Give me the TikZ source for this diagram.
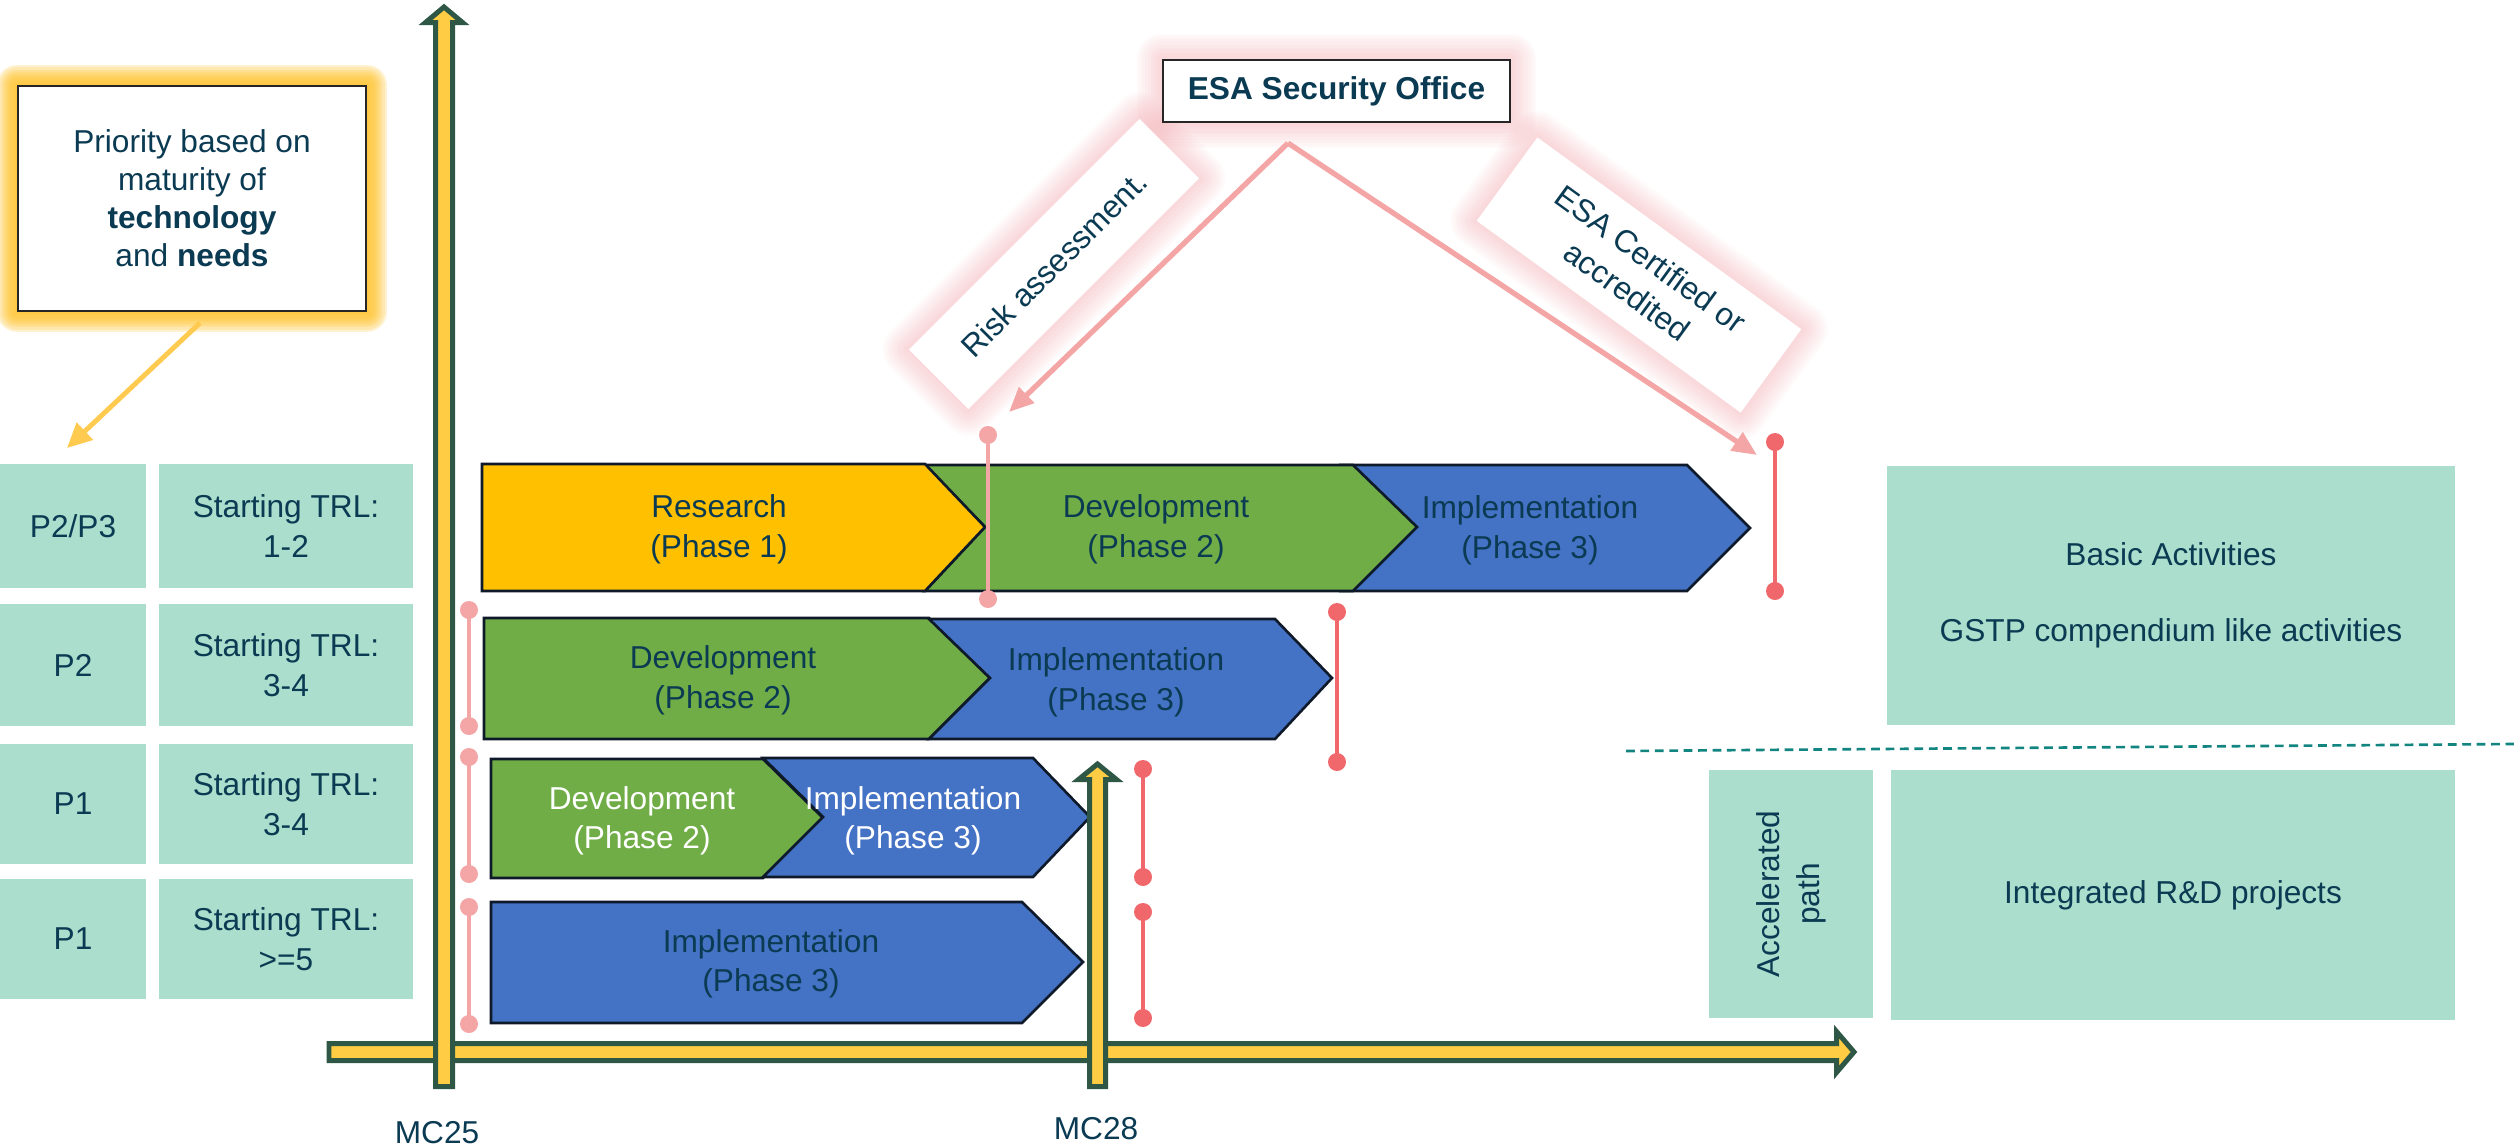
\documentclass[tikz,border=0pt]{standalone}
\usepackage{fontspec}
\setmainfont{Liberation Sans}
\usetikzlibrary{arrows.meta}
\pgfdeclarelayer{bg}
\pgfsetlayers{bg,main}
\definecolor{navy}{RGB}{11,58,83}
\definecolor{mint}{RGB}{171,222,205}
\definecolor{axisyel}{RGB}{255,204,68}
\definecolor{axisgrn}{RGB}{47,87,70}
\definecolor{resyel}{RGB}{255,192,0}
\definecolor{devgrn}{RGB}{112,173,71}
\definecolor{impblu}{RGB}{68,114,196}
\definecolor{chevline}{RGB}{14,26,42}
\definecolor{pinpink}{RGB}{244,166,166}
\definecolor{pinred}{RGB}{240,104,107}
\definecolor{dashteal}{RGB}{18,133,128}
\definecolor{glowpink}{RGB}{240,160,166}
\definecolor{glowyel}{RGB}{255,196,50}
\definecolor{arrowyel}{RGB}{255,202,80}

\newcommand\glowaround[4]{%
  \begin{pgfonlayer}{bg}
  \foreach \w in {#3}{%
    \draw[#2, line width=\w pt, opacity=#4, line join=round]
      (#1.north west) -- (#1.north east) -- (#1.south east) -- (#1.south west) -- cycle;
  }%
  \end{pgfonlayer}}
\newcommand\pinbar[4]{%
  \draw[#4, line width=1.3pt] (#1,#2) -- (#1,#3);
  \fill[#4] (#1,#2) circle (0.09cm) (#1,#3) circle (0.09cm);}

\tikzset{
  txt/.style={font=\fontsize{9}{11.2}\selectfont, text=navy, align=center, inner sep=0pt},
  cell/.style={txt, fill=mint},
  chev/.style={draw=chevline, line width=0.75pt, line join=miter},
  axisarrow/.style={fill=axisyel, draw=axisgrn, line width=1.42pt, line join=miter},
  tag/.style={txt, fill=white},
  pinkarrow/.style={pinpink, line width=1.5pt, -{Triangle[length=7pt,width=6pt]}},
}

\begin{document}
\begin{tikzpicture}[x=0.01cm, y=-0.01cm]
\useasboundingbox (0,0) rectangle (2514,1148);

% ---------- left table ----------
\node[cell, minimum width=1.46cm, minimum height=1.24cm] (pr1) at (73,526) {P2/P3};
\node[cell, minimum width=2.54cm, minimum height=1.24cm] (trl1) at (286,526) {Starting TRL:\\1-2};
\node[cell, minimum width=1.46cm, minimum height=1.22cm] (pr2) at (73,665) {P2};
\node[cell, minimum width=2.54cm, minimum height=1.22cm] (trl2) at (286,665) {Starting TRL:\\3-4};
\node[cell, minimum width=1.46cm, minimum height=1.20cm] (pr3) at (73,804) {P1};
\node[cell, minimum width=2.54cm, minimum height=1.20cm] (trl3) at (286,804) {Starting TRL:\\3-4};
\node[cell, minimum width=1.46cm, minimum height=1.20cm] (pr4) at (73,939) {P1};
\node[cell, minimum width=2.54cm, minimum height=1.20cm] (trl4) at (286,939) {Starting TRL:\\>=5};

% ---------- priority box ----------
\node[txt, fill=white, draw=black!85, line width=0.5pt, minimum width=3.48cm, minimum height=2.25cm,
      font=\fontsize{9}{10.8}\selectfont] (prio) at (192,198.5)
      {Priority based on\\maturity of\\\textbf{technology}\\and \textbf{needs}};
\glowaround{prio}{glowyel}{1.25,2.5,...,11.25}{0.22}
\coordinate (priotip) at (67,448);
\draw[arrowyel, line width=1.4pt, -{Triangle[length=7pt,width=6.5pt]}] (prio.south) ++(8,11) -- (priotip);

% ---------- axes ----------
\draw[axisarrow] (329,1043.5) -- (1836.5,1043.5) -- (1836.5,1031.5) -- (1854,1052)
  -- (1836.5,1072.5) -- (1836.5,1060.5) -- (329,1060.5) -- cycle;
\draw[axisarrow] (435.5,1086.5) -- (435.5,22.5) -- (425.5,22.5) -- (444,7)
  -- (462.5,22.5) -- (452.5,22.5) -- (452.5,1086.5) -- cycle;
\node[txt] (mc25) at (437,1133) {MC25};

% ---------- chevrons row 1 ----------
\draw[chev, fill=impblu] (1342,465) -- (1687,465) -- (1750,528) -- (1687,591) -- (1342,591) -- (1405,528) -- cycle;
\draw[chev, fill=devgrn] (925,465) -- (1353,465) -- (1417,527) -- (1353,591) -- (925,591) -- (985,527) -- cycle;
\draw[chev, fill=resyel] (482,464) -- (925,464) -- (985,527) -- (925,591) -- (482,591) -- cycle;
\node[txt, font=\fontsize{9}{11.4}\selectfont] (r1a) at (719,529) {Research\\(Phase 1)};
\node[txt, font=\fontsize{9}{11.4}\selectfont] (r1b) at (1156,529) {Development\\(Phase 2)};
\node[txt, font=\fontsize{9}{11.4}\selectfont] (r1c) at (1530,530) {Implementation\\(Phase 3)};

% ---------- row 2 ----------
\draw[chev, fill=devgrn] (484,618) -- (929,618) -- (990,678) -- (929,739) -- (484,739) -- cycle;
\draw[chev, fill=impblu] (929,619) -- (1275,619) -- (1332,678) -- (1275,739) -- (929,739) -- (990,678) -- cycle;
\node[txt, font=\fontsize{9}{11.4}\selectfont] (r2a) at (723,680) {Development\\(Phase 2)};
\node[txt, font=\fontsize{9}{11.4}\selectfont] (r2b) at (1116,682) {Implementation\\(Phase 3)};

% ---------- row 3 ----------
\draw[chev, fill=devgrn] (491,759) -- (763,759) -- (823,818) -- (763,878) -- (491,878) -- cycle;
\draw[chev, fill=impblu] (763,758) -- (1033,758) -- (1090,817) -- (1033,877) -- (763,877) -- (823,817) -- cycle;
\node[txt, text=white, font=\fontsize{9}{11}\selectfont] (r3a) at (642,821) {Development\\(Phase 2)};
\node[txt, text=white, font=\fontsize{9}{11}\selectfont] (r3b) at (913,821) {Implementation\\(Phase 3)};

% ---------- row 4 ----------
\draw[chev, fill=impblu] (491,902) -- (1022,902) -- (1083,962) -- (1022,1023) -- (491,1023) -- cycle;
\node[txt, font=\fontsize{9}{11}\selectfont] (r4a) at (771,964) {Implementation\\(Phase 3)};

% MC28 axis
\draw[axisarrow] (1089.5,1086.5) -- (1089.5,779.5) -- (1078.5,779.5) -- (1097.5,764)
  -- (1116.5,779.5) -- (1105.5,779.5) -- (1105.5,1086.5) -- cycle;
\node[txt] (mc28) at (1096,1129) {MC28};

% ---------- pins ----------
\pinbar{469}{610}{726}{pinpink}
\pinbar{469}{757}{874}{pinpink}
\pinbar{469}{907}{1024}{pinpink}
\pinbar{988}{435}{599}{pinpink}
\pinbar{1775}{442}{591}{pinred}
\pinbar{1337}{612}{762}{pinred}
\pinbar{1143}{769}{877}{pinred}
\pinbar{1143}{912}{1018}{pinred}

% ---------- right boxes ----------
\node[cell, minimum width=5.68cm, minimum height=2.59cm] (basic) at (2171,595.5)
  {Basic Activities\\[10.4pt]GSTP compendium like activities};
\coordinate (dashA) at (1626,751);
\coordinate (dashB) at (2514,744);
\draw[dashteal, line width=0.75pt, dash pattern=on 2.5pt off 1.6pt] (dashA) -- (dashB);
\node[cell, rotate=90, minimum width=2.48cm, minimum height=1.64cm,
      font=\fontsize{9}{11.4}\selectfont] (accel) at (1791,894) {Accelerated\\path};
\node[cell, minimum width=5.64cm, minimum height=2.50cm] (integ) at (2173,895) {Integrated R\&D projects};

% ---------- ESA security office and tags ----------
\node[txt, fill=white, draw=black!85, line width=0.6pt, minimum width=3.47cm, minimum height=0.62cm,
      font=\bfseries\fontsize{9}{11}\selectfont] (esa) at (1336.5,91) {ESA Security Office};
\glowaround{esa}{glowpink}{1.6,3.2,...,14.4}{0.055}
\node[tag, rotate=45, minimum width=3.26cm, minimum height=0.84cm] (risk) at (1054,264) {Risk assessment.};
\glowaround{risk}{glowpink}{1.6,3.2,...,14.4}{0.055}
\node[tag, rotate=-36, minimum width=3.26cm, minimum height=1.03cm] (cert) at (1639,275) {ESA Certified or\\accredited};
\glowaround{cert}{glowpink}{1.6,3.2,...,14.4}{0.055}

\path (esa.south) ++(-48.5,20) coordinate (apex);
\coordinate (risktip) at (1009,412);
\coordinate (certtip) at (1757,455);
\draw[pinkarrow] (apex) -- (risktip);
\draw[pinkarrow] (apex) -- (certtip);
\end{tikzpicture}
\end{document}
